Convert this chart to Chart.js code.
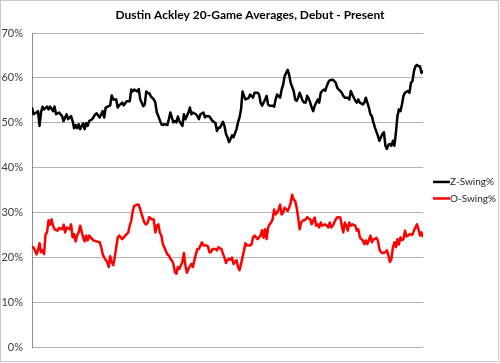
<!DOCTYPE html>
<html>
<head>
<meta charset="utf-8">
<script src="https://cdn.jsdelivr.net/npm/chart.js@4"></script>
<style>
  html, body { margin: 0; padding: 0; background: #fff; }
  canvas { display: block; }
</style>
</head>
<body>
<canvas id="swingChart" width="500" height="363"></canvas>
<script>
// 20-game rolling averages, x = game window index since debut
const chartTitle = 'Dustin Ackley 20-Game Averages, Debut - Present';
const seriesNames = ['Z-Swing%', 'O-Swing%'];
const yTicks = [0, 10, 20, 30, 40, 50, 60, 70];

const zSwingGames = [1, 2, 4, 5, 6, 7, 8, 9, 11, 12, 13, 15, 16, 17, 19, 21, 22, 24, 25, 27, 28, 29, 30, 31, 32, 33, 35, 36, 37, 38, 39, 41, 43, 44, 46, 48, 49, 50, 52, 53, 54, 55, 57, 58, 59, 61, 62, 64, 66, 67, 68, 69, 71, 72, 73, 75, 76, 77, 78, 79, 80, 82, 83, 84, 85, 87, 88, 89, 91, 92, 93, 95, 96, 97, 98, 99, 101, 102, 103, 104, 105, 106, 107, 108, 110, 111, 112, 113, 115, 116, 117, 119, 121, 122, 123, 124, 125, 126, 128, 129, 130, 131, 132, 133, 134, 135, 137, 138, 139, 140, 141, 142, 143, 145, 146, 148, 149, 151, 152, 153, 154, 156, 157, 158, 159, 161, 162, 163, 164, 166, 167, 168, 169, 171, 172, 173, 175, 176, 177, 178, 179, 181, 182, 183, 184, 185, 186, 187, 188, 189, 191, 192, 193, 194, 195, 196, 197, 198, 199, 201, 202, 203, 204, 205, 206, 207, 208, 209, 211, 212, 213, 214, 215, 216, 217, 218, 219, 221, 222, 223, 224, 225, 226, 227, 228, 229, 231, 232, 233, 234, 235, 236, 237, 238, 239, 240, 241, 242, 243, 244, 245, 246, 247, 248, 249, 251, 252, 253, 254, 255, 256, 257, 258, 259, 260, 261];
const zSwingValues = [53.4, 51.9, 52.3, 52.6, 49.3, 52.3, 53.6, 53.0, 53.6, 53.0, 53.6, 52.6, 53.6, 51.9, 52.3, 51.5, 50.4, 51.9, 50.8, 51.5, 50.4, 48.8, 49.5, 48.8, 49.7, 48.6, 49.9, 48.6, 49.9, 49.3, 50.4, 50.8, 51.9, 52.1, 51.2, 52.6, 51.2, 53.4, 53.7, 53.9, 56.1, 55.2, 55.2, 53.4, 53.9, 54.5, 53.9, 54.8, 54.8, 57.4, 57.0, 57.4, 57.0, 57.5, 55.2, 53.7, 54.1, 57.0, 56.6, 56.6, 55.9, 55.2, 54.5, 52.3, 51.5, 49.7, 49.5, 49.7, 49.5, 50.8, 52.3, 50.1, 50.4, 50.1, 51.4, 50.4, 49.3, 51.9, 50.8, 51.5, 52.3, 53.4, 51.9, 52.3, 51.9, 51.5, 50.8, 51.9, 52.3, 51.2, 51.5, 51.4, 50.4, 50.2, 49.9, 48.2, 48.9, 48.9, 50.2, 49.3, 47.5, 46.8, 45.7, 46.4, 47.2, 46.8, 48.6, 50.1, 51.2, 53.0, 57.0, 55.9, 55.2, 55.5, 56.3, 55.6, 56.7, 56.7, 56.3, 54.5, 53.8, 55.2, 56.0, 54.1, 53.8, 53.8, 53.6, 55.2, 56.3, 55.6, 57.4, 58.5, 60.4, 61.8, 60.7, 58.9, 57.1, 55.2, 54.9, 55.6, 56.7, 54.9, 54.5, 54.5, 56.0, 55.4, 54.5, 53.4, 52.6, 53.8, 55.2, 54.5, 56.7, 57.1, 57.4, 57.1, 58.2, 59.0, 59.5, 59.6, 59.3, 58.9, 57.8, 57.4, 57.1, 56.7, 56.0, 55.6, 55.6, 55.2, 57.1, 56.3, 55.6, 54.9, 54.5, 55.2, 54.5, 54.1, 54.5, 55.6, 54.5, 53.4, 51.9, 51.5, 50.1, 49.0, 47.1, 46.0, 46.8, 47.5, 47.9, 44.9, 44.2, 45.1, 45.3, 44.9, 46.0, 44.9, 47.9, 51.5, 53.0, 52.6, 54.1, 56.0, 56.7, 57.1, 56.7, 58.9, 59.3, 61.5, 62.6, 62.9, 62.6, 62.6, 61.1, 61.7];

const oSwingGames = [1, 2, 3, 4, 5, 6, 7, 8, 9, 10, 11, 12, 13, 14, 15, 16, 18, 19, 21, 22, 23, 24, 26, 27, 28, 29, 30, 31, 32, 33, 35, 36, 37, 38, 39, 41, 42, 44, 46, 47, 48, 49, 51, 52, 53, 54, 55, 56, 57, 58, 59, 61, 62, 63, 65, 66, 67, 68, 69, 71, 72, 73, 75, 76, 77, 78, 79, 81, 82, 83, 84, 85, 86, 87, 88, 89, 91, 92, 93, 94, 95, 96, 97, 98, 99, 101, 102, 103, 104, 105, 107, 108, 109, 110, 111, 112, 113, 114, 115, 117, 118, 119, 120, 121, 122, 123, 124, 125, 127, 128, 129, 130, 131, 132, 133, 134, 135, 137, 138, 139, 140, 141, 142, 143, 144, 146, 147, 148, 149, 151, 152, 153, 154, 155, 156, 157, 158, 159, 160, 161, 162, 163, 164, 165, 166, 167, 168, 169, 171, 172, 173, 174, 175, 176, 177, 178, 179, 180, 181, 182, 183, 184, 186, 187, 188, 189, 190, 191, 192, 193, 194, 196, 197, 198, 199, 200, 201, 202, 203, 204, 206, 207, 208, 209, 210, 211, 212, 213, 214, 216, 217, 218, 219, 220, 221, 222, 223, 224, 226, 227, 228, 229, 230, 231, 232, 233, 234, 236, 237, 238, 239, 240, 241, 242, 243, 244, 245, 246, 247, 248, 249, 250, 251, 252, 254, 255, 256, 257, 258, 259, 260, 261];
const oSwingValues = [22.5, 22.2, 21.6, 20.7, 21.6, 23.2, 21.2, 21.6, 20.8, 25.2, 25.6, 28.3, 27.3, 28.5, 27.1, 26.3, 26.0, 26.6, 26.3, 27.3, 25.6, 26.7, 26.3, 27.4, 24.5, 25.2, 23.6, 24.9, 25.6, 27.1, 24.5, 23.6, 24.9, 23.8, 24.9, 24.1, 23.8, 23.6, 23.4, 22.3, 20.8, 20.0, 19.0, 17.9, 20.3, 19.0, 18.3, 20.0, 22.3, 24.5, 24.9, 24.1, 24.5, 24.9, 25.6, 27.1, 28.2, 30.4, 31.5, 31.8, 31.7, 30.7, 28.5, 27.6, 27.4, 27.8, 29.0, 28.5, 28.5, 25.6, 27.1, 27.4, 25.6, 24.9, 23.0, 22.3, 20.7, 20.5, 19.7, 19.4, 18.6, 16.8, 16.4, 17.9, 17.5, 19.0, 21.0, 18.3, 16.6, 17.5, 18.6, 17.9, 19.4, 20.8, 21.9, 21.9, 22.7, 23.4, 22.7, 22.7, 22.5, 21.2, 21.2, 21.9, 21.9, 21.9, 21.6, 22.3, 21.9, 20.8, 20.0, 18.8, 19.5, 19.7, 19.5, 20.0, 18.6, 19.4, 17.9, 17.2, 18.6, 20.1, 21.6, 23.2, 22.7, 22.7, 22.9, 24.5, 24.9, 24.1, 24.5, 24.9, 26.1, 24.4, 26.3, 24.1, 26.7, 27.4, 27.8, 28.5, 30.7, 29.6, 30.0, 30.7, 31.8, 29.6, 30.0, 31.1, 30.4, 31.1, 32.2, 34.0, 32.9, 32.6, 31.1, 28.9, 26.3, 27.8, 28.2, 28.3, 28.5, 29.0, 28.5, 27.4, 28.2, 28.9, 27.1, 27.4, 26.7, 27.8, 27.1, 27.4, 27.1, 26.7, 27.8, 26.7, 27.1, 27.8, 28.5, 29.0, 28.9, 27.1, 25.6, 27.8, 27.1, 26.0, 27.8, 27.1, 27.4, 27.1, 26.0, 26.3, 24.5, 24.1, 23.8, 23.0, 23.8, 23.0, 24.9, 23.4, 24.1, 24.1, 24.4, 23.8, 21.9, 21.2, 21.0, 21.2, 21.6, 20.5, 19.0, 19.7, 22.3, 23.4, 22.3, 24.1, 22.9, 24.5, 23.9, 24.1, 26.0, 24.7, 24.9, 25.2, 25.1, 26.0, 26.7, 27.4, 26.3, 24.9, 25.6, 24.5];

const lineColors = ['#000000', '#ff0000'];

function toPoints(games, values) {
  return games.map((g, i) => ({ x: g, y: values[i] }));
}

// white background, thin frame and a title centred on the whole canvas
const frame = {
  id: 'frame',
  beforeDraw(chart) {
    const c = chart.ctx;
    c.save();
    c.fillStyle = '#fff';
    c.fillRect(0, 0, chart.width, chart.height);
    c.strokeStyle = '#c8c8c8';
    c.lineWidth = 1;
    c.strokeRect(0.5, 0.5, chart.width - 2, chart.height - 2);
    c.fillStyle = '#000';
    c.font = 'bold 12px Lato';
    c.textAlign = 'center';
    c.textBaseline = 'middle';
    c.fillText(chartTitle, chart.width / 2, 15);
    c.restore();
  }
};

// legend sitting to the right of the plot, vertically centred
const sideLegend = {
  id: 'sideLegend',
  afterDraw(chart) {
    const c = chart.ctx;
    const area = chart.chartArea;
    const x0 = area.right + 10;
    const mid = (area.top + area.bottom) / 2;
    c.save();
    c.font = '10px Lato';
    c.textBaseline = 'middle';
    c.textAlign = 'left';
    chart.data.datasets.forEach((ds, i) => {
      const y = mid + (i - 0.5) * 16.5;
      c.strokeStyle = ds.borderColor;
      c.lineWidth = 2.5;
      c.beginPath();
      c.moveTo(x0, y);
      c.lineTo(x0 + 17, y);
      c.stroke();
      c.fillStyle = '#262626';
      c.fillText(ds.label, x0 + 17, y);
    });
    c.restore();
  }
};

const ctx = document.getElementById('swingChart').getContext('2d');
const swingChart = new Chart(ctx, {
  type: 'line',
  data: {
    datasets: [
      {
        label: seriesNames[0],
        data: toPoints(zSwingGames, zSwingValues),
        borderColor: lineColors[0],
        borderWidth: 2.5,
        pointRadius: 0,
        tension: 0,
        borderJoinStyle: 'round'
      },
      {
        label: seriesNames[1],
        data: toPoints(oSwingGames, oSwingValues),
        borderColor: lineColors[1],
        borderWidth: 2.5,
        pointRadius: 0,
        tension: 0,
        borderJoinStyle: 'round'
      }
    ]
  },
  options: {
    responsive: false,
    animation: false,
    layout: { padding: { left: 0, right: 77, top: 33, bottom: 11 } },
    plugins: {
      legend: { display: false },
      tooltip: { enabled: false },
      title: { display: false }
    },
    scales: {
      x: {
        type: 'linear',
        min: 1,
        max: 261,
        display: false
      },
      y: {
        min: yTicks[0],
        max: yTicks[yTicks.length - 1],
        afterFit(scale) { scale.width = 32; },
        afterBuildTicks(scale) { scale.ticks = yTicks.map(v => ({ value: v })); },
        ticks: {
          callback: v => v + '%',
          color: '#404040',
          font: { family: 'Lato', size: 11 },
          padding: 9
        },
        grid: { color: '#b3b3b3', drawTicks: false },
        border: { color: '#8c8c8c' }
      }
    }
  },
  plugins: [frame, sideLegend]
});
</script>
</body>
</html>
